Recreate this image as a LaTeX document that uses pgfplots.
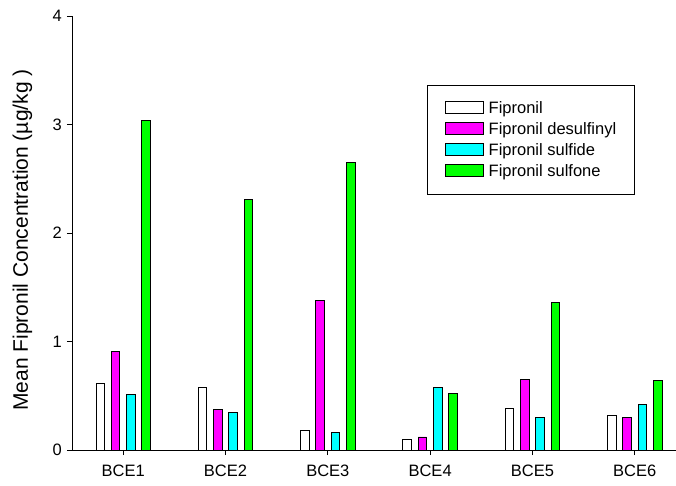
\documentclass[border=0pt]{standalone}
\usepackage{pgfplots}
\pgfplotsset{compat=1.18}
\usepackage{fontspec}
\setmainfont{Liberation Sans}
\definecolor{cMag}{RGB}{255,0,255}
\definecolor{cCyan}{RGB}{0,255,255}
\definecolor{cGreen}{RGB}{0,255,0}
\begin{document}
\begin{tikzpicture}
\useasboundingbox (0,0) rectangle (676pt,485pt);
\begin{axis}[
  at={(72pt,35pt)}, anchor=south west,
  scale only axis, width=604pt, height=434pt,
  xmin=0.5, xmax=6.403, ymin=0, ymax=4,
  axis x line*=bottom, axis y line*=left,
  axis line style={line width=0.9pt, black},
  tick align=outside, major tick length=5pt,
  tick style={line width=0.9pt, black},
  xtick={1,2,3,4,5,6},
  xticklabels={BCE1,BCE2,BCE3,BCE4,BCE5,BCE6},
  ytick={0,1,2,3,4},
  minor tick num=0,
  /pgf/number format/assume math mode=true,
  ticklabel style={font=\fontsize{16.5}{19}\selectfont},
  xticklabel style={anchor=north, inner sep=0pt, yshift=-10pt},
  yticklabel style={anchor=east, inner sep=0pt, xshift=-5pt},
  ylabel={Mean Fipronil Concentration (µg/kg )},
  every axis y label/.style={at={(axis description cs:0,0.5)}, xshift=-49.5pt, yshift=-7pt, rotate=90, anchor=center, font=\fontsize{21}{25}\selectfont},
  ybar=6.8pt, bar width=8.5pt,
  every axis plot/.append style={draw=black, line width=0.9pt},
  legend style={at={(0.5877,0.841)}, anchor=north west, draw=black, line width=0.8pt,
    inner xsep=18pt, inner ysep=16pt, row sep=7.4pt,
    font=\fontsize{16.5}{19}\selectfont,
    nodes={inner sep=0pt}},
  legend cell align=left,
  legend image code/.code={\draw[#1, line width=0.8pt] (0pt,-5pt) rectangle (38pt,6.5pt); \path (41pt,0pt) (42.5pt,0pt);},
]
\addplot[fill=white] coordinates {(1,0.61) (2,0.58) (3,0.18) (4,0.10) (5,0.38) (6,0.32)};
\addplot[fill=cMag] coordinates {(1,0.91) (2,0.37) (3,1.38) (4,0.12) (5,0.65) (6,0.30)};
\addplot[fill=cCyan] coordinates {(1,0.51) (2,0.35) (3,0.16) (4,0.58) (5,0.30) (6,0.42)};
\addplot[fill=cGreen] coordinates {(1,3.04) (2,2.31) (3,2.65) (4,0.52) (5,1.36) (6,0.64)};
\legend{Fipronil, Fipronil desulfinyl, Fipronil sulfide, Fipronil sulfone}
\end{axis}
\end{tikzpicture}
\end{document}
